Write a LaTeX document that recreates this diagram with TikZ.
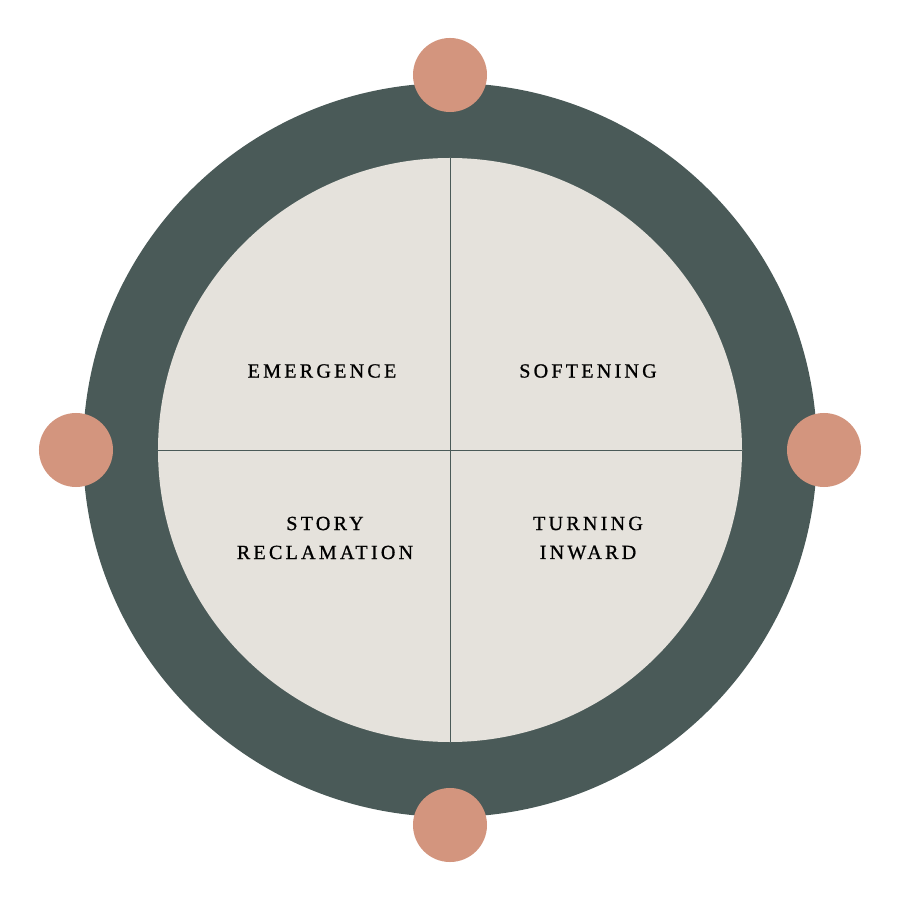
\documentclass[tikz,border=0pt]{standalone}
\usepackage{fontspec}
\setmainfont{Liberation Serif}[LetterSpace=16,FakeBold=0.8]
\definecolor{ringgreen}{HTML}{4A5A58}
\definecolor{paper}{HTML}{E5E2DC}
\definecolor{clay}{HTML}{D3957E}
\tikzset{
  dot/.style={circle,fill=clay,inner sep=0pt,minimum size=1.85cm},
  phase/.style={align=center,font=\fontsize{14.3}{20.6}\selectfont}
}
\begin{document}
\begin{tikzpicture}[x=0.025cm,y=0.025cm]
\useasboundingbox (-450,-450) rectangle (450,450);
\fill[ringgreen] (0,0) circle (367);
\fill[paper] (0,0) circle (292);
\coordinate (N) at (0,292);
\coordinate (S) at (0,-292);
\coordinate (W) at (-292,0);
\coordinate (E) at (292,0);
\draw[ringgreen,line width=0.7pt] (N) -- (S);
\draw[ringgreen,line width=0.7pt] (W) -- (E);
\node[dot] (top) at (0,375) {};
\node[dot] (bottom) at (0,-375) {};
\node[dot] (left) at (-374,0) {};
\node[dot] (right) at (374,0) {};
\node[phase] (emergence) at (-128,79) {EMERGENCE};
\node[phase] (softening) at (138,79) {SOFTENING};
\node[phase] (story) at (-125,-88) {STORY\\RECLAMATION};
\node[phase] (turning) at (138,-88) {TURNING\\INWARD};
\end{tikzpicture}
\end{document}
